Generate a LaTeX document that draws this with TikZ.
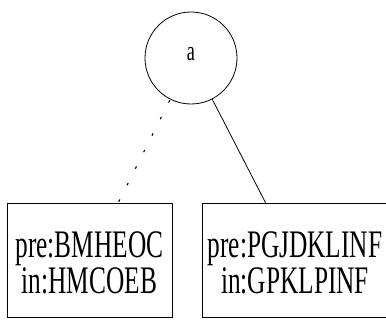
\documentclass[tikz,border=0pt]{standalone}
\usepackage{fontspec}
\setmainfont[FakeStretch=0.65]{Liberation Serif}
\begin{document}
\begin{tikzpicture}[x=1pt, y=1pt, line width=0.8pt,
    treenode/.style={circle, draw, minimum size=92pt, inner sep=0pt, font=\fontsize{28}{35}\selectfont},
    orderbox/.style={rectangle, draw, minimum height=114pt, inner sep=0pt, align=center, font=\fontsize{39}{35}\selectfont}]
				% 1. 画布范围
				\useasboundingbox (0,0) rectangle (386,320);
				
				% 2. 根结点与两个子树
				\node[treenode] (root) at (191,262) {\raisebox{4pt}[\height][\depth]{a}};
				\node[orderbox, minimum width=165pt] (leftsub) at (89.5,60) {\raisebox{-8pt}[\height][\depth]{\begin{tabular}{@{}c@{}}pre:BMHEOC\\in:HMCOEB\end{tabular}}};
				\node[orderbox, minimum width=186pt] (rightsub) at (295,60) {\raisebox{-8pt}[\height][\depth]{\begin{tabular}{@{}c@{}}pre:PGJDKLINF\\in:GPKLPINF\end{tabular}}};
				
				% 3. 连线
				\draw[line width=1.1pt, dash pattern=on 2.5pt off 16pt, dash phase=-1pt] (root) -- (leftsub);
				\draw (root) -- (rightsub);
			\end{tikzpicture}
\end{document}
